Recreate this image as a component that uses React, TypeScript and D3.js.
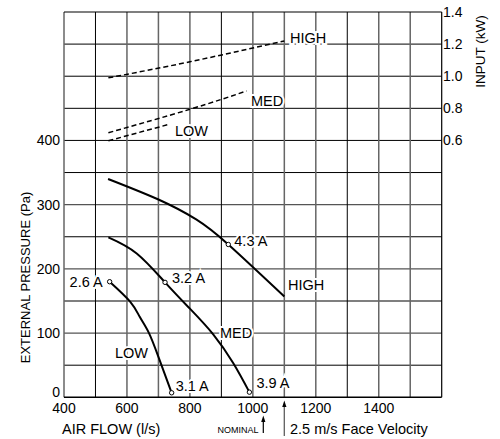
import React from "react";
import * as d3 from "d3";

const xTicks = [400, 600, 800, 1000, 1200, 1400];
const yTicks = [0, 100, 200, 300, 400];
const kwTicks = [0.6, 0.8, 1.0, 1.2, 1.4];

const pressureHigh: [number, number][] = [[540, 340], [700, 308], [820, 277], [922, 238], [1100, 157]];
const pressureMed: [number, number][] = [[541, 249], [631, 224], [721, 179], [800, 138], [874, 98], [938, 53], [989, 8]];
const pressureLow: [number, number][] = [[545, 180], [610, 149], [641, 125], [670, 100], [700, 63], [742, 7]];

const inputHigh: [number, number][] = [[541, 0.99], [800, 1.09], [1100, 1.22]];
const inputMed: [number, number][] = [[541, 0.648], [800, 0.794], [980, 0.908]];
const inputLow: [number, number][] = [[541, 0.598], [737, 0.702]];

const ampMarkers = [
  { flow: 922, pa: 238, label: "4.3 A", dx: 6, dy: -4, anchor: "start" },
  { flow: 721, pa: 179, label: "3.2 A", dx: 7, dy: -4, anchor: "start" },
  { flow: 545, pa: 180, label: "2.6 A", dx: -7, dy: 0, anchor: "end" },
  { flow: 742, pa: 7, label: "3.1 A", dx: 4, dy: -7, anchor: "start" },
  { flow: 989, pa: 8, label: "3.9 A", dx: 7, dy: -9, anchor: "start" },
];

const FONT = "'Liberation Sans', Arial, Helvetica, sans-serif";

export default function App() {
  const left = 64, right = 441.7, top = 12, bottom = 397.3;
  const x = d3.scaleLinear().domain([400, 1600]).range([left, right]);
  const y = d3.scaleLinear().domain([0, 600]).range([bottom, top]);
  const kw = d3.scaleLinear().domain([0.6, 1.4]).range([y(400), y(600)]);

  const pLine = d3.line<[number, number]>().x(d => x(d[0])).y(d => y(d[1])).curve(d3.curveNatural);
  const kLine = d3.line<[number, number]>().x(d => x(d[0])).y(d => kw(d[1])).curve(d3.curveNatural);

  const vLines = d3.range(500, 1600, 100);
  const hLines = d3.range(50, 600, 50);
  const blackV = new Set([500, 900, 1300]);
  const grayH = new Set([100, 150, 200, 300]);

  const halo = { stroke: "#fff", strokeWidth: 4, paintOrder: "stroke" as const };
  const FS = 14.5;

  return (
    <svg width={500} height={439} style={{ position: "absolute", left: 0, top: 0, background: "#fff" }} fontFamily={FONT}>
      {hLines.map(v => (
        <line key={"h" + v} x1={left} x2={right} y1={y(v)} y2={y(v)}
          stroke={grayH.has(v) ? "#555" : "#000"} strokeWidth={grayH.has(v) ? 1.3 : 1} />
      ))}
      {vLines.map(v => (
        <line key={"v" + v} x1={x(v)} x2={x(v)} y1={top} y2={bottom}
          stroke={blackV.has(v) ? "#000" : "#666"} strokeWidth={blackV.has(v) ? 1 : 1.5} />
      ))}
      <line x1={left} x2={left} y1={top} y2={bottom} stroke="#666" strokeWidth={1.5} />
      <line x1={right} x2={right} y1={top} y2={bottom} stroke="#000" strokeWidth={1.2} />
      <line x1={left} x2={right} y1={top} y2={top} stroke="#000" strokeWidth={1.2} />
      <line x1={left} x2={right} y1={bottom} y2={bottom} stroke="#000" strokeWidth={1.4} />

      {[inputHigh, inputMed, inputLow].map((d, i) => (
        <path key={"k" + i} d={kLine(d) || ""} fill="none" stroke="#000" strokeWidth={1.5} strokeDasharray="5,3" />
      ))}
      {[pressureHigh, pressureMed, pressureLow].map((d, i) => (
        <path key={"p" + i} d={pLine(d) || ""} fill="none" stroke="#000" strokeWidth={2} />
      ))}

      <g fontSize={FS} fill="#000">
        <text x={290} y={38} dy="0.35em" {...halo}>HIGH</text>
        <text x={251} y={101} dy="0.35em" {...halo}>MED</text>
        <text x={175} y={131} dy="0.35em" {...halo}>LOW</text>
        <text x={288} y={285} dy="0.35em" {...halo}>HIGH</text>
        <text x={220} y={333} dy="0.35em" {...halo}>MED</text>
        <text x={115} y={353} dy="0.35em" {...halo}>LOW</text>
      </g>

      {ampMarkers.map(m => (
        <g key={m.label}>
          <text x={x(m.flow) + m.dx} y={y(m.pa) + m.dy} dy="0.35em" fontSize={FS} textAnchor={m.anchor} {...halo}>{m.label}</text>
          <circle cx={x(m.flow)} cy={y(m.pa)} r={2.2} fill="#fff" stroke="#000" strokeWidth={1} />
        </g>
      ))}

      <g fontSize={14} fill="#000">
        {yTicks.map(t => (
          <text key={"yt" + t} x={60} y={t === 0 ? 392 : y(t)} dy="0.35em" textAnchor="end">{t}</text>
        ))}
        {kwTicks.map(t => (
          <text key={"kt" + t} x={443} y={kw(t)} dy="0.35em">{t.toFixed(1)}</text>
        ))}
        {xTicks.map(t => (
          <text key={"xt" + t} x={x(t)} y={408.5} dy="0.35em" textAnchor="middle">{t}</text>
        ))}
      </g>
      <g fill="#000">
        <text x={62} y={428.5} dy="0.35em" fontSize={FS}>AIR FLOW (l/s)</text>
        <text transform="translate(25,277.5) rotate(-90)" dy="0.35em" textAnchor="middle" fontSize={13}>EXTERNAL PRESSURE (Pa)</text>
        <text transform="translate(480,51.5) rotate(-90)" dy="0.35em" textAnchor="middle" fontSize={13.5}>INPUT (kW)</text>
        <text x={290} y={428.5} dy="0.35em" fontSize={FS}>2.5 m/s Face Velocity</text>
        <text x={258.5} y={429.5} dy="0.35em" fontSize={9} textAnchor="end">NOMINAL</text>
      </g>

      <line x1={263.3} x2={263.3} y1={433} y2={420} stroke="#000" strokeWidth={1.2} />
      <path d="M263.3,415.5 L261.2,422 L265.4,422 Z" fill="#000" />
      <line x1={x(1100)} x2={x(1100)} y1={436} y2={405} stroke="#666" strokeWidth={1.4} />
      <path d={`M${x(1100)},400.5 L${x(1100) - 2.1},407 L${x(1100) + 2.1},407 Z`} fill="#000" />
    </svg>
  );
}
